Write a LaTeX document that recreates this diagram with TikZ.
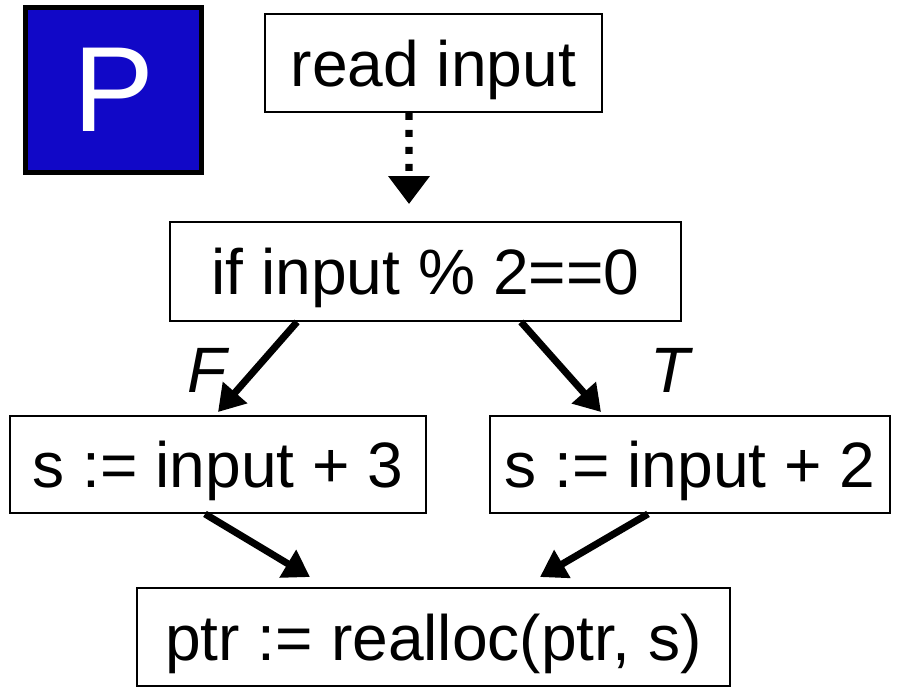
\documentclass[tikz,border=0pt]{standalone}
\usepackage{fontspec}
\setmainfont{Liberation Sans}
\usepackage{tikz}
\usetikzlibrary{arrows.meta,positioning}
\definecolor{pblue}{HTML}{1108C7}
\tikzset{
  stmt/.style={draw,line width=1.1pt,inner sep=0pt,text depth=0pt,font=\fontsize{36.5}{40}\selectfont},
  flow/.style={line width=4pt,-{Triangle[width=0.62cm,length=0.52cm]}},
  dflow/.style={line width=4pt,dash pattern=on 0.14cm off 0.2cm,-{Triangle[width=0.8cm,length=0.56cm]}},
  blabel/.style={font=\fontsize{36.5}{40}\selectfont\itshape}
}
\begin{document}
\begin{tikzpicture}[x=0.02cm,y=-0.02cm]
  \useasboundingbox (0,0) rectangle (900,688);
  \node[draw,line width=2.8pt,fill=pblue,text=white,minimum width=3.52cm,minimum height=3.3cm,
        font=\fontsize{69}{70}\selectfont] (plabel) at (113.5,90) {P};
  \node[stmt,minimum width=6.74cm,minimum height=1.96cm] (read) at (433.5,63) {read input};
  \node[stmt,minimum width=10.22cm,minimum height=1.98cm] (cond) at (425.5,271.5) {if input \% 2==0};
  \node[stmt,minimum width=8.32cm,minimum height=1.94cm] (sthree) at (218,464.5) {s := input + 3};
  \node[stmt,minimum width=8.0cm,minimum height=1.94cm] (stwo) at (690,464.5) {s := input + 2};
  \node[stmt,minimum width=11.86cm,minimum height=1.96cm] (realloc) at (433.5,637) {ptr := realloc(ptr, s)};
  % edges
  \draw[dflow] ([xshift=-0.49cm]read.south) -- ([xshift=-0.33cm,yshift=0.34cm]cond.north);
  \draw[flow] ([xshift=-2.57cm]cond.south) -- ([yshift=0.06cm]sthree.north);
  \draw[flow] ([xshift=1.91cm]cond.south) -- ([xshift=-1.78cm,yshift=0.06cm]stwo.north);
  \draw[flow] ([xshift=-0.26cm]sthree.south) -- ([xshift=-2.47cm,yshift=0.2cm]realloc.north);
  \draw[flow] ([xshift=-0.84cm]stwo.south) -- ([xshift=2.13cm,yshift=0.2cm]realloc.north);
  \node[blabel] (flab) at (207,370) {F};
  \node[blabel] (tlab) at (670,370) {T};
\end{tikzpicture}
\end{document}
